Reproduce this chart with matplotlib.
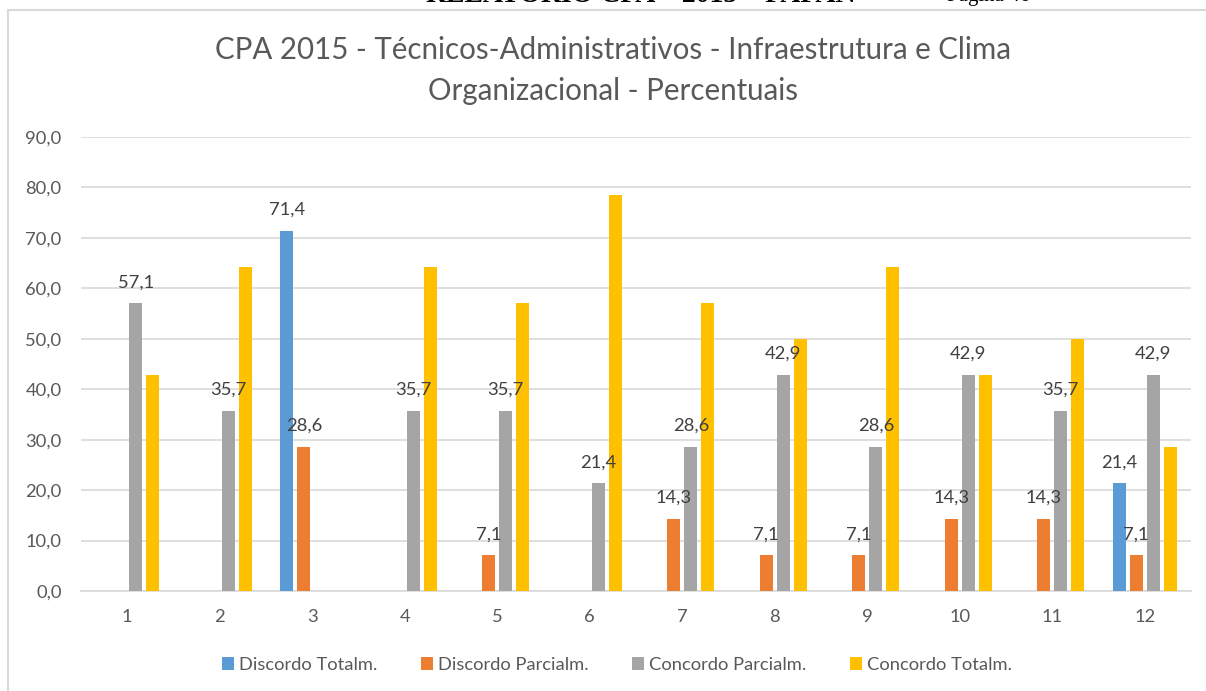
import matplotlib
matplotlib.use("Agg")
import matplotlib.pyplot as plt
import numpy as np
from matplotlib.patches import Rectangle

categories = ["1", "2", "3", "4", "5", "6", "7", "8", "9", "10", "11", "12"]
series_names = ["Discordo Totalm.", "Discordo Parcialm.", "Concordo Parcialm.", "Concordo Totalm."]
discordo_total = [0, 0, 71.4, 0, 0, 0, 0, 0, 0, 0, 0, 21.4]
discordo_parcial = [0, 0, 28.6, 0, 7.1, 0, 14.3, 7.1, 7.1, 14.3, 14.3, 7.1]
concordo_parcial = [57.1, 35.7, 0, 35.7, 35.7, 21.4, 28.6, 42.9, 28.6, 42.9, 35.7, 42.9]
concordo_total = [42.9, 64.3, 0, 64.3, 57.1, 78.6, 57.1, 50.0, 64.3, 42.9, 50.0, 28.6]
show_labels = [True, True, True, False]
colors = ["#5B9BD5", "#ED7D31", "#A5A5A5", "#FFC000"]
yticks = [0, 10, 20, 30, 40, 50, 60, 70, 80, 90]
title_lines = ["CPA 2015 - Técnicos-Administrativos - Infraestrutura e Clima",
               "Organizacional - Percentuais"]

FONT = ["Lato", "DejaVu Sans"]
plt.rcParams["font.family"] = FONT
FS = 13.2

fig = plt.figure(figsize=(12.06, 6.91), dpi=100)
W, H = 1206, 691

# chart border
fig.patches.append(Rectangle((8 / W, -0.01), 1.02, 1 - 10 / H + 0.01, transform=fig.transFigure,
                             fill=False, edgecolor="#D9D9D9", linewidth=1.5))
# partially cropped page header (cut off at the top edge, as in the reference)
fig.text(0.54, 1 + 4 / H, "RELATÓRIO CPA – 2015 – FAFAN –", ha="center", va="center",
         fontsize=20, fontweight="bold", family="Liberation Serif", color="black")
fig.text(0.785, 1 + 4 / H, "Página 46", ha="left", va="center",
         fontsize=15, family="Liberation Serif", color="black")

ax = fig.add_axes([81 / W, 1 - 591 / H, 1110 / W, (591 - 137) / H])
data = [discordo_total, discordo_parcial, concordo_parcial, concordo_total]
x = np.arange(len(categories))
step = 0.184
width = 0.144
for i, (vals, name, col) in enumerate(zip(data, series_names, colors)):
    pos = x + (i - 1.5) * step
    vals = np.array(vals, dtype=float)
    ax.bar(pos, vals, width=width, color=col, label=name, zorder=3)
    if show_labels[i]:
        for p, v in zip(pos, vals):
            if v > 0:
                ax.annotate(f"{v:.1f}".replace(".", ","), (p, v), xytext=(0, 15),
                            textcoords="offset points", ha="center", va="center",
                            fontsize=FS, color="#404040", zorder=4)

ax.set_xlim(-0.5, len(categories) - 0.5)
ax.set_ylim(0, 90)
ax.set_yticks(yticks)
ax.set_yticklabels([f"{t:.1f}".replace(".", ",") for t in yticks])
ax.set_xticks(x)
ax.set_xticklabels(categories)
ax.tick_params(axis="both", length=0, labelsize=FS, labelcolor="#595959")
ax.tick_params(axis="y", pad=14)
ax.tick_params(axis="x", pad=13)
ax.grid(axis="y", color="#D9D9D9", linewidth=1.2, zorder=0)
for s in ["top", "right", "left"]:
    ax.spines[s].set_visible(False)
ax.spines["bottom"].set_color("#D9D9D9")
ax.spines["bottom"].set_linewidth(1.2)

t1 = fig.text(613 / W, 1 - 50 / H, title_lines[0], ha="center", va="center",
              fontsize=19.5, color="#595959")
t2 = fig.text(613 / W, 1 - 91 / H, title_lines[1], ha="center", va="center",
              fontsize=19.5, color="#595959")

fig.canvas.draw()
r = fig.canvas.get_renderer()
w1 = t1.get_window_extent(r).width
fs = 19.5 * 798.0 / w1
t1.set_fontsize(fs)
t2.set_fontsize(fs)

def make_legend(cs):
    lg = fig.legend(loc="center", bbox_to_anchor=(617 / W, 1 - 665 / H), ncol=4, frameon=False,
                    fontsize=FS, handlelength=0.65, handleheight=0.65, handletextpad=0.3,
                    columnspacing=cs)
    for t in lg.get_texts():
        t.set_color("#595959")
    return lg

cs = 2.0
leg = make_legend(cs)
fig.canvas.draw()
lw = leg.get_window_extent(r).width
# adjust column spacing so that the legend spans ~805 px
fontpx = FS * 100 / 72
cs = max(0.5, cs + (805 - lw) / 3 / fontpx)
leg.remove()
leg = make_legend(cs)

fig.savefig("out.png", dpi=100)
